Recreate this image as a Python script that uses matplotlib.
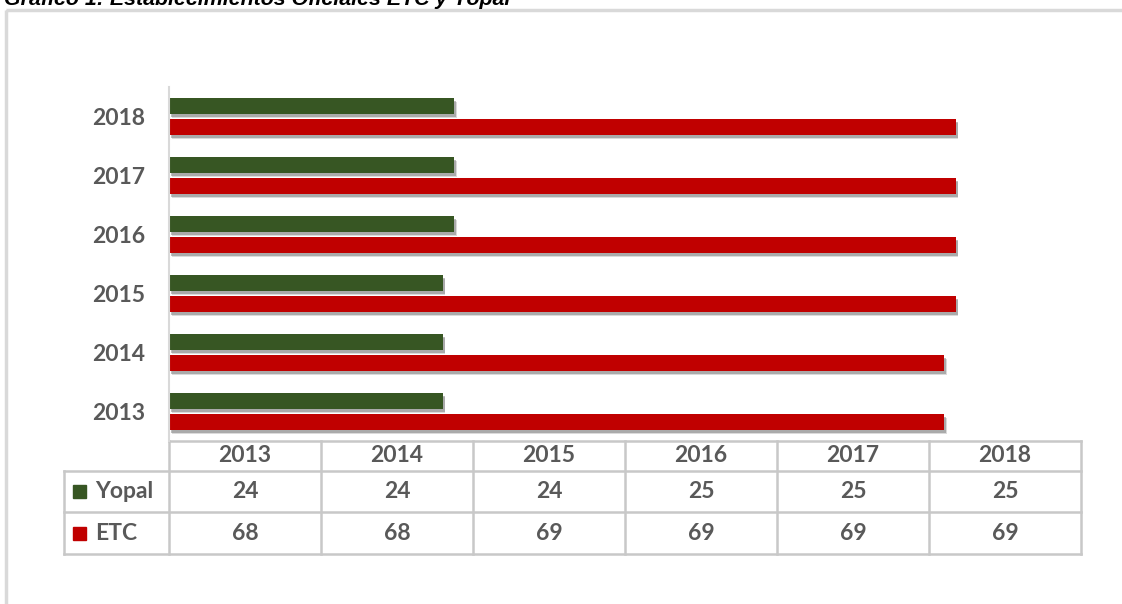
import matplotlib
matplotlib.use('Agg')
import matplotlib.pyplot as plt
import matplotlib.patheffects as pe
from matplotlib.patches import Rectangle
import numpy as np

years = ['2013', '2014', '2015', '2016', '2017', '2018']
yopal = [24, 24, 24, 25, 25, 25]
etc = [68, 68, 69, 69, 69, 69]
series = ['Yopal', 'ETC']
title = 'Gráfico 1: Establecimientos Oficiales ETC y Yopal'

green = '#375623'
red = '#C00000'
gray_txt = '#595959'
line_c = '#C8C8C8'

W, H = 1122, 604
fig = plt.figure(figsize=(W / 100, H / 100), dpi=100)

# pixel helpers
def fx(px):
    return px / W

def fy(py):
    return 1 - py / H

left, right, top, bottom = 169, 1081, 87, 441

# overlay axes in pixel coords for frame + table
ov = fig.add_axes([0, 0, 1, 1], zorder=0)
ov.set_xlim(0, W)
ov.set_ylim(H, 0)
ov.axis('off')

# outer frame (only top/left visible)
ov.add_patch(Rectangle((6.5, 9.5), W + 20, H + 20, fill=False, ec='#D9D9D9', lw=2.5))

# title is cut by the top edge, as in the source image
fig.text(fx(4), fy(5), title, fontsize=15.4, fontweight='bold', style='italic',
         family='Liberation Sans', color='black', va='baseline', ha='left')

ax = fig.add_axes([fx(left), fy(bottom), fx(right) - fx(left), (bottom - top) / H], zorder=1)
ax.patch.set_alpha(0)

y = np.arange(len(years))
h = 0.27
off = 0.18
shadow = [pe.SimplePatchShadow(offset=(2, -3), shadow_rgbFace='#9a9a9a', alpha=0.35),
          pe.SimplePatchShadow(offset=(1.5, -2), shadow_rgbFace='#707070', alpha=0.45),
          pe.Normal()]
b1 = ax.barh(y + off, yopal, height=h, color=green)
b2 = ax.barh(y - off, etc, height=h, color=red)
for b in list(b1) + list(b2):
    b.set_path_effects(shadow)

fs = 16.5
ax.set_xlim(0, 80)
ax.set_ylim(-0.5, len(years) - 0.5)
ax.set_yticks(y)
ax.set_yticklabels(years, family='Lato', fontweight='bold', fontsize=fs, color=gray_txt)
ax.tick_params(axis='y', length=0, pad=17)
ax.set_xticks([])
for s in ['top', 'right', 'bottom']:
    ax.spines[s].set_visible(False)
ax.spines['left'].set_color('#D9D9D9')
ax.spines['left'].set_linewidth(1.5)

# data table below the chart
colw = (right - left) / len(years)
edges = [left + i * colw for i in range(len(years) + 1)]
row_y = [bottom, 471, 512, 554]
lab_left = 64
lw = 1.8
# horizontal lines
ov.plot([left, right], [row_y[0], row_y[0]], color=line_c, lw=lw)
for ry in row_y[1:]:
    ov.plot([lab_left, right], [ry, ry], color=line_c, lw=lw)
# vertical lines
ov.plot([lab_left, lab_left], [row_y[1], row_y[3]], color=line_c, lw=lw)
for ex in edges:
    ov.plot([ex, ex], [row_y[0], row_y[3]], color=line_c, lw=lw)

tkw = dict(family='Lato', fontweight='bold', fontsize=fs, color=gray_txt, ha='center', va='center')
for i, yr in enumerate(years):
    cx = (edges[i] + edges[i + 1]) / 2
    ov.text(cx, (row_y[0] + row_y[1]) / 2, yr, **tkw)
    ov.text(cx, (row_y[1] + row_y[2]) / 2, str(yopal[i]), **tkw)
    ov.text(cx, (row_y[2] + row_y[3]) / 2, str(etc[i]), **tkw)

for k, (name, col) in enumerate(zip(series, [green, red])):
    cy = (row_y[k + 1] + row_y[k + 2]) / 2
    ov.add_patch(Rectangle((73, cy - 6.5), 13, 13, color=col))
    ov.text(95, cy, name, family='Lato', fontweight='bold', fontsize=fs,
            color=gray_txt, ha='left', va='center')

fig.savefig('out.png', dpi=100)
